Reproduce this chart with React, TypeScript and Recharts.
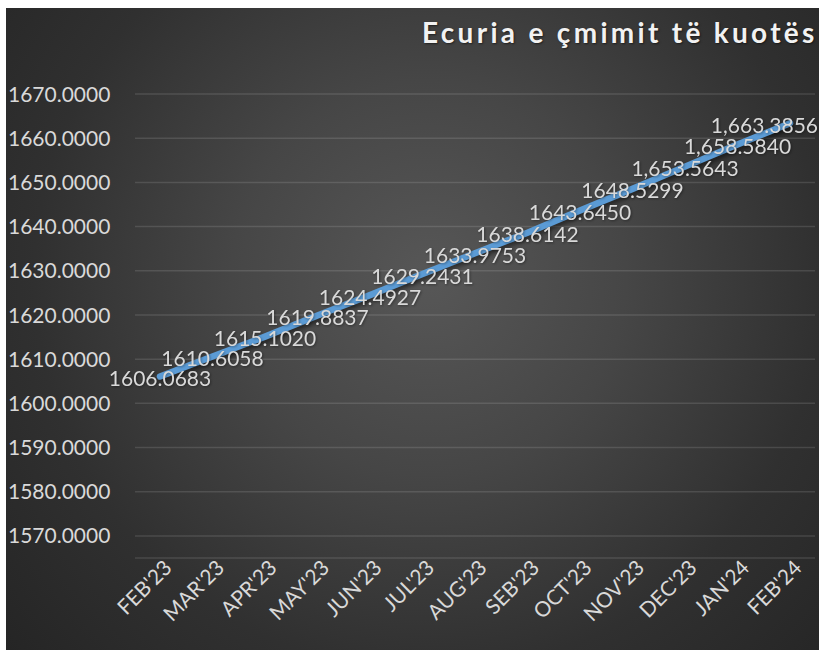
import { LineChart, Line, XAxis, YAxis, CartesianGrid } from 'recharts';

const months = [
  "FEB'23", "MAR'23", "APR'23", "MAY'23", "JUN'23", "JUL'23", "AUG'23",
  "SEB'23", "OCT'23", "NOV'23", "DEC'23", "JAN'24", "FEB'24",
];

const prices = [
  1606.0683, 1610.6058, 1615.102, 1619.8837, 1624.4927, 1629.2431, 1633.9753,
  1638.6142, 1643.645, 1648.5299, 1653.5643, 1658.584, 1663.3856,
];

const yTicks = [1570, 1580, 1590, 1600, 1610, 1620, 1630, 1640, 1650, 1660, 1670];

// Excel switched to thousand separators from DEC'23 on
const commaFrom = 10;

const data = months.map((m, i) => ({ month: m, price: prices[i] }));

const FONT = 'Lato, "Open Sans", sans-serif';
const TEXT = '#d9d9d9';

function fmt(v: number, i: number) {
  const s = v.toFixed(4);
  if (i < commaFrom) return s;
  const [a, b] = s.split('.');
  return a.replace(/\B(?=(\d{3})+(?!\d))/g, ',') + '.' + b;
}

const YTick = (props: any) => {
  const { y, payload } = props;
  return (
    <text x={2} y={y} dy="0.36em" textAnchor="start" fill={TEXT} fontSize={21} fontFamily={FONT}>
      {payload.value.toFixed(4)}
    </text>
  );
};

const XTick = (props: any) => {
  const { x, y, payload } = props;
  return (
    <g transform={`translate(${x + 2},${y - 8}) rotate(-45)`}>
      <text x={0} y={0} dy="0.75em" textAnchor="end" fill={TEXT} fontSize={21} fontFamily={FONT}>
        {payload.value}
      </text>
    </g>
  );
};

const PointLabel = (props: any) => {
  const { x, y, index, value } = props;
  const last = index === prices.length - 1;
  return (
    <text
      x={last ? x + 28 : x}
      y={y + 2}
      dy="0.36em"
      textAnchor={last ? 'end' : 'middle'}
      fill={TEXT}
      fontSize={21}
      fontFamily={FONT}
      style={{ filter: 'drop-shadow(1px 1px 1px rgba(0,0,0,0.35))' }}
    >
      {fmt(value, index)}
    </text>
  );
};

export default function App() {
  return (
    <div
      style={{
        position: 'absolute',
        left: 6,
        top: 8,
        width: 813,
        height: 642,
        overflow: 'hidden',
        background:
          'radial-gradient(circle at 52% 42%, #575757 0%, #464646 35%, #303030 70%, #252525 100%)',
      }}
    >
      <div
        style={{
          position: 'absolute',
          left: 416,
          top: 7,
          whiteSpace: 'nowrap',
          color: '#f2f2f2',
          fontFamily: FONT,
          fontWeight: 700,
          fontSize: 28,
          letterSpacing: 3.3,
          textShadow: '1px 1px 2px rgba(0,0,0,0.5)',
        }}
      >
        Ecuria e çmimit të kuotës
      </div>
      <LineChart
        width={813}
        height={642}
        data={data}
        margin={{ top: 86, right: 4, bottom: 12, left: 0 }}
      >
        <CartesianGrid vertical={false} stroke="rgba(255,255,255,0.12)" strokeWidth={1.5} />
        <XAxis
          dataKey="month"
          axisLine={false}
          tickLine={false}
          interval={0}
          height={80}
          padding={{ left: 25, right: 25 }}
          tick={<XTick />}
        />
        <YAxis
          domain={[1565, 1670]}
          ticks={yTicks}
          allowDataOverflow
          axisLine={false}
          tickLine={false}
          width={129}
          tick={<YTick />}
        />
        <Line
          type="linear"
          dataKey="price"
          stroke="#5b9bd5"
          strokeWidth={6.5}
          strokeLinecap="round"
          dot={false}
          activeDot={false}
          isAnimationActive={false}
          style={{ filter: 'drop-shadow(2px 3px 2px rgba(0,0,0,0.45))' }}
          label={<PointLabel />}
        />
      </LineChart>
    </div>
  );
}
